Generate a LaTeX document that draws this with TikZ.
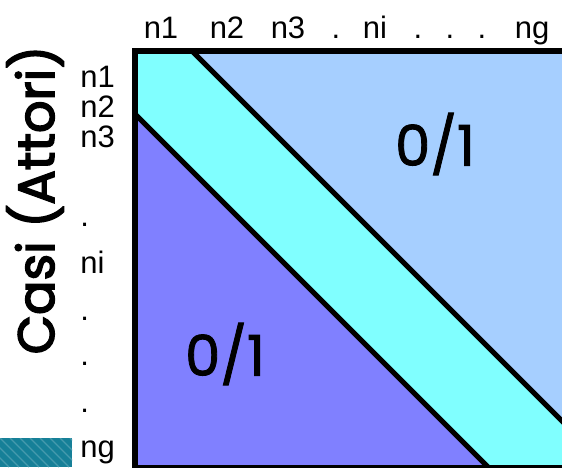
\documentclass[tikz,border=0pt]{standalone}
\usepackage{fontspec}
\setmainfont{Liberation Sans}
\newfontfamily\titlefont[FakeBold=3]{Poppins}
\newfontfamily\valuefont[FakeBold=1.5]{Poppins}
\usetikzlibrary{positioning}

\definecolor{upperblue}{RGB}{166,207,255}
\definecolor{bandcyan}{RGB}{128,255,255}
\definecolor{lowerblue}{RGB}{128,128,255}
\definecolor{slideteal}{RGB}{22,128,152}

\tikzset{
  tick/.style={font=\fontsize{15.5}{18}\selectfont, inner sep=0pt},
  axistitle/.style={font=\titlefont\fontsize{25.5}{30}\selectfont, inner sep=0pt},
  cellvalue/.style={font=\valuefont\fontsize{28}{30}\selectfont, inner sep=0pt},
  border/.style={line width=3pt},
  diag/.style={line width=2.5pt},
}

\begin{document}
\begin{tikzpicture}[x=0.5pt, y=-0.5pt]
    \useasboundingbox (0,0) rectangle (562,467);
    % slide decoration, bottom left
    \begin{scope}
        \clip (0,438) rectangle (72,467);
        \fill[slideteal] (0,438) rectangle (72,467);
        \foreach \s in {-40,-30,...,70}
            \draw[slideteal!80!white, line width=0.6pt] (\s,438) -- (\s+29,467);
    \end{scope}
    % matrix
    \coordinate (tl) at (135,51);
    \coordinate (tr) at (566,51);
    \coordinate (br) at (566,468);
    \coordinate (bl) at (135,468);
    \coordinate (upA) at (192,51);
    \coordinate (upB) at (566,425);
    \coordinate (loA) at (135,114);
    \coordinate (loB) at (489,468);
    \fill[upperblue] (tl) rectangle (br);
    \fill[bandcyan] (tl) -- (upA) -- (upB) -- (br) -- (loB) -- (loA) -- cycle;
    \fill[lowerblue] (loA) -- (loB) -- (bl) -- cycle;
    \draw[diag] (upA) -- (upB);
    \draw[diag] (loA) -- (loB);
    \draw[border] (bl) -- (tl) -- (tr) -- (br) -- cycle;
    % labels
    \foreach \lab/\x [count=\i] in {n1/161, n2/227, n3/288, ./336, ni/375, ./418, ./450, ./482, ng/532}
        \node[tick, anchor=base] (col\i) at (\x,38) {\lab};
    \foreach \lab/\y [count=\i] in {n1/87, n2/117, n3/147, ./226, ni/273, ./320, ./365, ./412, ng/457}
        \node[tick, anchor=base west] (row\i) at (80,\y) {\lab};
    \node[axistitle, rotate=90, anchor=base] (rowtitle) at (54,200) {Casi (Attori)};
    \node[cellvalue] (upperval) at (435,144) {0/1};
    \node[cellvalue] (lowerval) at (225,354) {0/1};
\end{tikzpicture}
\end{document}
